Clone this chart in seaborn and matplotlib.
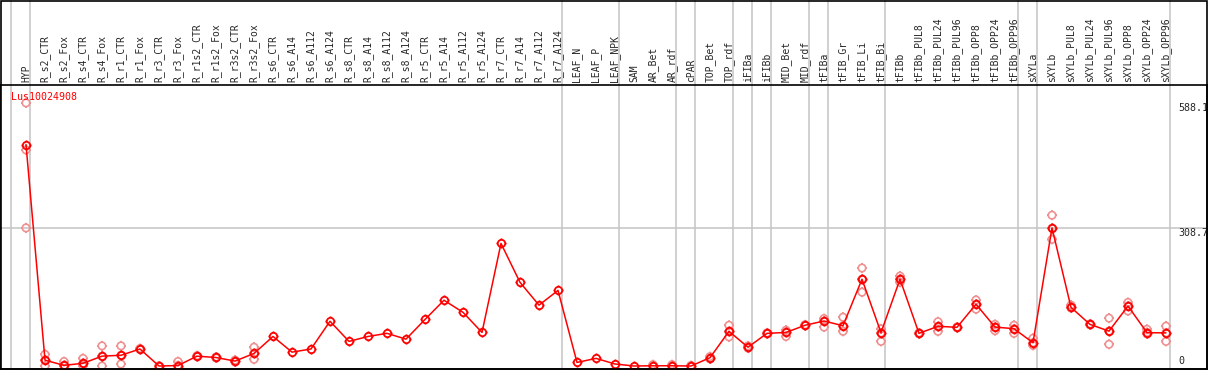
import numpy as np
import pandas as pd
import matplotlib
matplotlib.use("Agg")
import matplotlib.pyplot as plt
from matplotlib.path import Path
from matplotlib.patches import Rectangle
import seaborn as sns

# Sample (column) names, left to right
samples = [
    "HYP",
    "R_s2_CTR", "R_s2_Fox", "R_s4_CTR", "R_s4_Fox", "R_r1_CTR", "R_r1_Fox",
    "R_r3_CTR", "R_r3_Fox", "R_r1s2_CTR", "R_r1s2_Fox", "R_r3s2_CTR", "R_r3s2_Fox",
    "R_s6_CTR", "R_s6_A14", "R_s6_A112", "R_s6_A124",
    "R_s8_CTR", "R_s8_A14", "R_s8_A112", "R_s8_A124",
    "R_r5_CTR", "R_r5_A14", "R_r5_A112", "R_r5_A124",
    "R_r7_CTR", "R_r7_A14", "R_r7_A112", "R_r7_A124",
    "LEAF_N", "LEAF_P", "LEAF_NPK", "SAM", "AR_Bet", "AR_rdf", "cPAR",
    "TOP_Bet", "TOP_rdf", "iFIBa", "iFIBb", "MID_Bet", "MID_rdf",
    "tFIBa", "tFIB_Gr", "tFIB_Li", "tFIB_Bi", "tFIBb",
    "tFIBb_PUL8", "tFIBb_PUL24", "tFIBb_PUL96", "tFIBb_OPP8", "tFIBb_OPP24", "tFIBb_OPP96",
    "sXYLa", "sXYLb",
    "sXYLb_PUL8", "sXYLb_PUL24", "sXYLb_PUL96", "sXYLb_OPP8", "sXYLb_OPP24", "sXYLb_OPP96",
]

# Main expression values (red line)
expr = [
    495,
    13, 1.5, 6, 22, 24, 38, 0, 1, 22, 19, 11, 28,
    66, 31, 38, 100,
    55, 66, 73, 60,
    104, 147, 120, 75,
    274, 187, 136, 169,
    8, 17, 4.5, 0, 0.5, 0.5, 0,
    18.6, 77.5, 42, 73, 75, 91,
    100.6, 90, 194, 74.5, 194,
    73, 88.7, 86.5, 138, 87, 83.4,
    52, 308.7,
    131, 93, 78, 134, 74.5, 74,
]

# Replicate values (faded circles); nan = no visible replicate
nan = np.nan
rep1 = [
    588.1,
    26, 10, 17, 45, 45, 38, 0, 10, 22, 19, 13, 42,
    nan, nan, nan, nan, nan, nan, nan, nan, nan, nan, nan, nan, nan, nan, nan, nan,
    nan, nan, nan, nan, 3, 3, 1,
    21, 91, 45, 74, 80, 92,
    106, 109, 219, 83, 201,
    74, 99, 87, 147.5, 93, 91,
    62, 337,
    136, 94, 107, 142, 82, 89,
]
rep2 = [
    483,
    0, 0, 0, 0, 4.5, 37, 0, 0, 21, 18, 9, 15,
    nan, nan, nan, nan, nan, nan, nan, nan, nan, nan, nan, nan, nan, nan, nan, nan,
    nan, nan, nan, nan, 0, 0, 0,
    16, 65, 40, 72, 66, 90,
    87, 77.5, 165, 55, 187,
    72, 77.5, 86, 127, 79, 73,
    46, 283,
    130, 92, 48.5, 123, 72, 55,
]
rep3 = [
    308.7,
    13, 1, 6, 22, 24, 39, 0, 1, 23, 20, 11, 28,
    nan, nan, nan, nan, nan, nan, nan, nan, nan, nan, nan, nan, nan, nan, nan, nan,
    nan, nan, nan, nan, 1, 0.5, 0,
    18.6, 77, 42, 73, 75, 91,
    100, 90, 194, 74, 194,
    73, 88, 86, 138, 87, 83,
    52, 308,
    131, 93, 78, 134, 75, 74,
]

# Group separators sit just after these columns
group_ends = [-1, 0, 28, 31, 34, 35, 37, 38, 39, 41, 42, 45, 52, 53, 60]

y_ticks = [588.1, 308.7, 0]
gene_id = "Lus10024908"

# --- figure setup ---
sns.set_style("white")
plt.rcParams["font.family"] = ["DejaVu Sans Mono"]

W, H = 1209, 370
fig = plt.figure(figsize=(W / 100, H / 100), dpi=100)
ax = fig.add_axes([0, 1 / H, 1207 / W, 284 / H])

idx = np.arange(len(samples))
main_df = pd.DataFrame({"idx": idx, "value": expr})
rep_df = pd.DataFrame({
    "idx": np.concatenate([idx, idx, idx]),
    "value": np.concatenate([rep1, rep2, rep3]),
}).dropna()

# circle with four little ticks, like the original markers
circ = Path.unit_circle()
verts = list(circ.vertices)
codes = list(circ.codes)
for dx, dy in [(1, 0), (-1, 0), (0, 1), (0, -1)]:
    verts += [(dx * 1.0, dy * 1.0), (dx * 1.35, dy * 1.35)]
    codes += [Path.MOVETO, Path.LINETO]
tick_circle = Path(verts, codes)

grid_col = "#c4c4c4"
pink = "#f09090"

# separators (run through the header too)
for g in group_ends:
    ax.axvline(g + 0.23, ymin=0, ymax=369 / 284, color=grid_col, lw=1.1,
               clip_on=False, zorder=0)
ax.axhline(308.7, color=grid_col, lw=1.1, zorder=0)

sns.scatterplot(data=rep_df, x="idx", y="value", ax=ax, marker=tick_circle,
                s=52, facecolor="none", edgecolor=pink, linewidth=1.2, zorder=2)
sns.lineplot(data=main_df, x="idx", y="value", ax=ax, color="red", lw=1.1,
             marker=tick_circle, markersize=7.2, markerfacecolor="none",
             markeredgecolor="red", markeredgewidth=1.3, zorder=3)

ax.set_xlim((0 - 26) / 19, (1207 - 26) / 19)
ax.set_ylim((366 - 369) / 0.4474, (366 - 85) / 0.4474)
ax.set_xticks([])
ax.set_yticks([])
ax.set_xlabel("")
ax.set_ylabel("")
for sp in ax.spines.values():
    sp.set_color("black")
    sp.set_linewidth(1.2)

# header labels
xt = ax.get_xaxis_transform()
for i, name in enumerate(samples):
    ax.text(i, 1 + 3 / 284, name, rotation=90, ha="center", va="bottom",
            fontsize=7, transform=xt, clip_on=False)

# right-hand value labels
yt = ax.get_yaxis_transform()
for v in y_ticks:
    ax.text(1178 / 1207, v, f"{v:g}", ha="left",
            va="bottom" if v == 0 else "top", fontsize=7.2, transform=yt)

ax.text(11 / 1207, (369 - 97) / 284, gene_id, color="red", fontsize=7.2,
        ha="left", va="center", transform=ax.transAxes)

# outer frame
fig.add_artist(Rectangle((0.5 / W, 1 / H), 1206.5 / W, 368.5 / H,
                         transform=fig.transFigure, fill=False,
                         edgecolor="black", lw=1.2))

fig.savefig("out.png", dpi=100)
